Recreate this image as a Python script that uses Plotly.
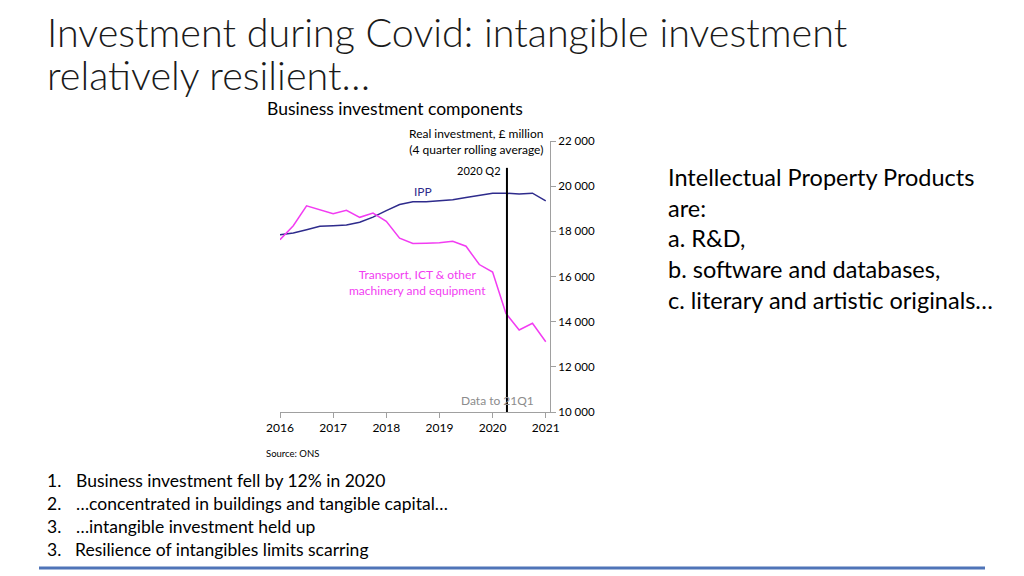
import plotly.graph_objects as go

quarters = [2016 + i * 0.25 for i in range(21)]
ipp = [17850, 17930, 18070, 18220, 18250, 18280, 18400, 18630, 18920, 19190,
       19310, 19310, 19350, 19400, 19500, 19600, 19690, 19690, 19650, 19690, 19350]
transport = [17630, 18250, 19130, 18950, 18780, 18930, 18620, 18810, 18440, 17700,
             17460, 17470, 17490, 17560, 17340, 16530, 16200, 14370, 13630, 13930, 13110]
x_ticks = [2016, 2017, 2018, 2019, 2020, 2021]
y_ticks = [10000, 12000, 14000, 16000, 18000, 20000, 22000]
y_labels = ["10 000", "12 000", "14 000", "16 000", "18 000", "20 000", "22 000"]
covid_marker = 2020.27

FONT = "Lato"
NAVY = "#2E2B8C"
MAG = "#F23CF2"

fig = go.Figure()
fig.add_trace(go.Scatter(x=quarters, y=ipp, mode="lines",
                         line=dict(color=NAVY, width=1.5), showlegend=False))
fig.add_trace(go.Scatter(x=quarters, y=transport, mode="lines",
                         line=dict(color=MAG, width=1.5), showlegend=False))

fig.add_shape(type="line", xref="x", yref="y", x0=covid_marker, x1=covid_marker,
              y0=10000, y1=20810, line=dict(color="black", width=2))

ann = []
def a(text, x, y, size, color="black", xanchor="center", yanchor="middle",
      xref="x", yref="y", align="center", weight=None):
    f = dict(family=FONT, size=size, color=color)
    if weight:
        f["weight"] = weight
    ann.append(dict(text=text, x=x, y=y, xref=xref, yref=yref, showarrow=False,
                    font=f, xanchor=xanchor, yanchor=yanchor, align=align))

a("IPP", 2018.69, 19780, 12, NAVY)
a("Transport, ICT & other<br>machinery and equipment", 2018.58, 15750, 12, MAG)
a("2020 Q2", 2020.2, 20700, 11, "black", xanchor="right")
a("Data to 21Q1", 2020.82, 10530, 12, "#8C8C8C", xanchor="right")
a("Real investment, £ million<br>(4 quarter rolling average)", 2020.99, 22000, 12,
  "black", xanchor="right", align="right")

# page texts placed by page pixel (browser page has an 8px body margin)
def px(xp, yp):
    return (xp - 280) / 270.0, (412 - yp) / 271.0

def pa(text, xp, yp, size, xanchor="left", color="black", weight=None):
    x0, y0 = px(xp, yp)
    a(text, x0, y0, size, color, xanchor=xanchor, xref="paper", yref="paper",
      align="left", weight=weight)

pa("Investment during Covid: intangible investment", 45, 32, 39.5, color="#1A1A1A", weight=300)
pa("relatively resilient…", 45, 75, 39.5, color="#1A1A1A", weight=300)
pa("Business investment components", 395, 108, 17.5, xanchor="center")
pa("Source: ONS", 264, 453, 9.5)

right_lines = ["Intellectual Property Products", "are:", "a. R&D,",
               "b. software and databases,", "c. literary and artistic originals…"]
for i, t in enumerate(right_lines):
    pa(t, 666, 177 + 30.7 * i, 23.5)

item_nums = ["1.", "2.", "3.", "3."]
items = ["Business investment fell by 12% in 2020",
         "…concentrated in buildings and tangible capital…",
         "…intangible investment held up",
         "Resilience of intangibles limits scarring"]
item_x = [74, 74, 74, 73]
for i, (n, t) in enumerate(zip(item_nums, items)):
    pa(n, 45, 480 + 23 * i, 17.5)
    pa(t, item_x[i], 480 + 23 * i, 17.5)

x0, _ = px(39, 0)
x1, _ = px(985, 0)
_, yb = px(0, 568)
fig.add_shape(type="line", xref="paper", yref="paper", x0=x0, x1=x1, y0=yb, y1=yb,
              line=dict(color="#4F74B8", width=3))

fig.update_layout(
    width=1016, height=568, autosize=False,
    margin=dict(l=272, r=474, t=133, b=164),
    paper_bgcolor="white", plot_bgcolor="white",
    annotations=ann,
    font=dict(family=FONT, size=12, color="black"),
    xaxis=dict(range=[2016, 2021.08], tickvals=x_ticks, ticktext=[str(v) for v in x_ticks],
               showgrid=False, zeroline=False, showline=True, linecolor="#A0A0A0",
               linewidth=1, ticks="outside", ticklen=5, tickcolor="#A0A0A0",
               tickfont=dict(family=FONT, size=12, color="black")),
    yaxis=dict(range=[10000, 22000], side="right", tickvals=y_ticks, ticktext=y_labels,
               showgrid=False, zeroline=False, showline=True, linecolor="#A0A0A0",
               linewidth=1, ticks="outside", ticklen=5, tickcolor="#A0A0A0",
               tickfont=dict(family=FONT, size=11.5, color="black")),
)

fig.write_html("out.html")
